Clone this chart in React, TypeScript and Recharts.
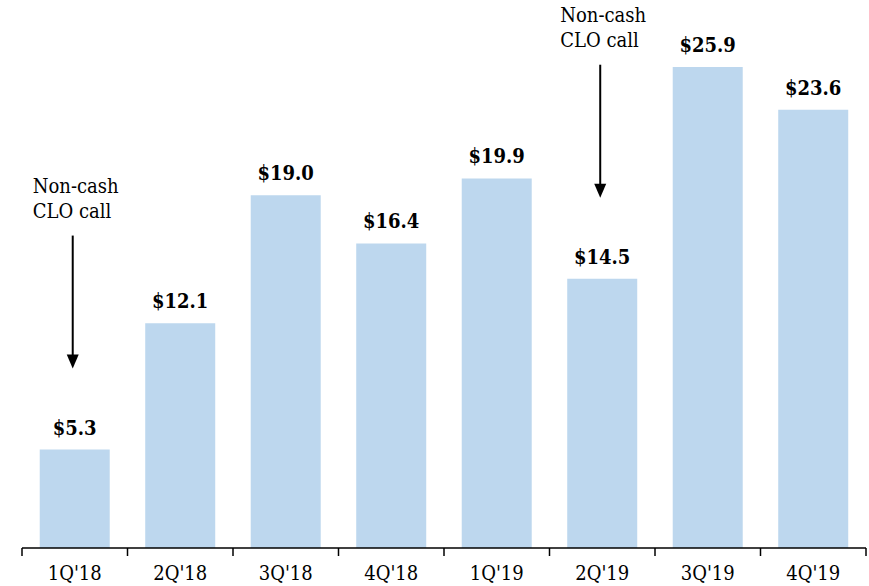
import React from "react";
import { BarChart, Bar, XAxis, YAxis, LabelList } from "recharts";

const categories = ["1Q'18", "2Q'18", "3Q'18", "4Q'18", "1Q'19", "2Q'19", "3Q'19", "4Q'19"];
const values = [5.3, 12.1, 19.0, 16.4, 19.9, 14.5, 25.9, 23.6];
const annotatedCategories = ["1Q'18", "2Q'19"];
const annotationLines = ["Non-cash", "CLO call"];

const data = categories.map((c, i) => ({ name: c, value: values[i] }));

const FONT = "'DejaVu Serif Condensed', 'DejaVu Serif', serif";
const BAR_COLOR = "#BDD7EE";

const BarLabel = (props: any) => {
  const { x, y, width, index, value } = props;
  const cx = x + width / 2;
  const annotated = annotatedCategories.includes(categories[index]);
  return (
    <g>
      <text
        x={cx}
        y={y - 15}
        textAnchor="middle"
        fontFamily={FONT}
        fontStretch="condensed"
        fontWeight="bold"
        fontSize={20}
        fill="#000"
      >
        {"$" + Number(value).toFixed(1)}
      </text>
      {annotated && (
        <g>
          <text x={cx - 42} y={y - 257} textAnchor="start" fontFamily={FONT} fontStretch="condensed" fontSize={20} fill="#000">
            {annotationLines[0]}
          </text>
          <text x={cx - 42} y={y - 232} textAnchor="start" fontFamily={FONT} fontStretch="condensed" fontSize={20} fill="#000">
            {annotationLines[1]}
          </text>
          <line x1={cx - 2} x2={cx - 2} y1={y - 214} y2={y - 92} stroke="#000" strokeWidth={2} />
          <polygon
            points={`${cx - 8},${y - 95} ${cx + 4},${y - 95} ${cx - 2},${y - 81}`}
            fill="#000"
          />
        </g>
      )}
    </g>
  );
};

const Tick = (props: any) => {
  const { x, y, payload, index } = props;
  const off = payload && payload.offset != null ? payload.offset : 52.75;
  const isLast = index === categories.length - 1;
  return (
    <g>
      <line x1={x - off} x2={x - off} y1={y} y2={y + 8} stroke="#000" strokeWidth={1.5} />
      {isLast && <line x1={x + off} x2={x + off} y1={y} y2={y + 8} stroke="#000" strokeWidth={1.5} />}
      <text x={x} y={y + 32} textAnchor="middle" fontFamily={FONT} fontStretch="condensed" fontSize={20} fill="#000">
        {payload.value}
      </text>
    </g>
  );
};

export default function App() {
  return (
    <div style={{ position: "fixed", top: 0, left: 0, width: 869, height: 586, background: "#fff" }}>
      <BarChart
        width={869}
        height={586}
        data={data}
        margin={{ top: 28, right: 3, left: 22, bottom: 8 }}
        barCategoryGap="16.8%"
      >
        <YAxis hide domain={[0, 28]} />
        <XAxis
          dataKey="name"
          height={30}
          tickSize={0}
          tickMargin={0}
          tickLine={false}
          axisLine={{ stroke: "#000", strokeWidth: 1.5 }}
          tick={<Tick />}
          interval={0}
        />
        <Bar dataKey="value" fill={BAR_COLOR} isAnimationActive={false}>
          <LabelList dataKey="value" content={<BarLabel />} />
        </Bar>
      </BarChart>
    </div>
  );
}
